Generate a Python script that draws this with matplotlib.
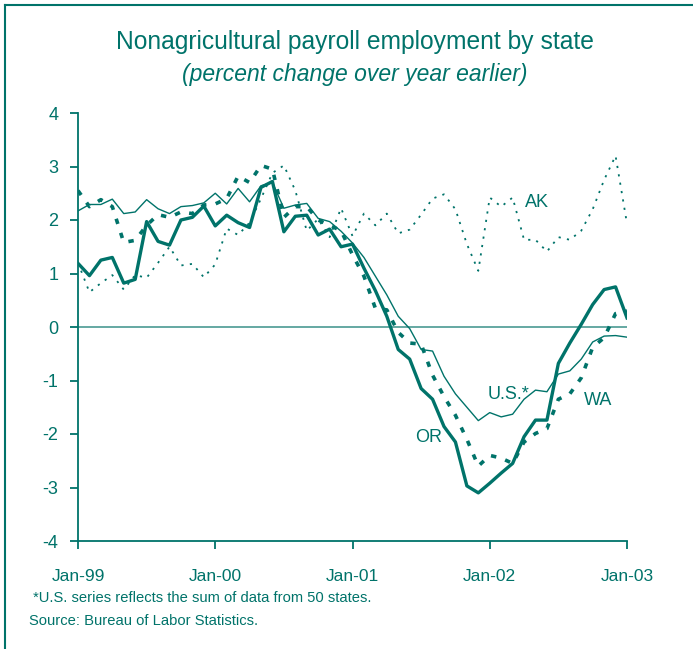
import numpy as np
import matplotlib
matplotlib.use('Agg')
import matplotlib.pyplot as plt
from matplotlib.lines import Line2D

plt.rcParams['font.family'] = ['Liberation Sans', 'DejaVu Sans']
plt.rcParams['axes.unicode_minus'] = False

# monthly, Jan-99 .. Jan-03 (49 points)
months = np.arange(49)

us = [2.17, 2.29, 2.29, 2.39, 2.12, 2.15, 2.38, 2.21, 2.12, 2.25, 2.27, 2.32, 2.50,
      2.30, 2.59, 2.34, 2.64, 2.70, 2.22, 2.28, 2.31, 2.03, 1.97, 1.79, 1.57,
      1.30, 0.95, 0.60, 0.20, -0.03, -0.42, -0.45, -0.92, -1.25, -1.50, -1.75,
      -1.60, -1.68, -1.63, -1.35, -1.18, -1.21, -0.88, -0.82, -0.60, -0.28,
      -0.17, -0.16, -0.19]

oregon = [1.19, 0.96, 1.25, 1.30, 0.82, 0.89, 1.97, 1.60, 1.53, 2.00, 2.05, 2.26, 1.89,
          2.09, 1.95, 1.86, 2.61, 2.72, 1.78, 2.07, 2.09, 1.72, 1.83, 1.50, 1.55,
          1.10, 0.68, 0.20, -0.42, -0.60, -1.15, -1.35, -1.86, -2.15, -2.97, -3.10,
          -2.92, -2.73, -2.55, -2.05, -1.74, -1.74, -0.68, -0.30, 0.05, 0.42,
          0.70, 0.75, 0.17]

washington = [2.55, 2.25, 2.38, 2.25, 1.58, 1.62, 1.90, 2.10, 2.05, 2.15, 2.12, 2.28, 2.30,
              2.40, 2.82, 2.70, 3.02, 2.95, 2.05, 2.25, 2.25, 2.00, 1.90, 1.80, 1.35,
              0.95, 0.35, 0.32, -0.10, -0.30, -0.32, -0.90, -1.30, -1.65, -2.10, -2.60,
              -2.40, -2.45, -2.55, -2.15, -1.99, -1.90, -1.35, -1.25, -0.95, -0.38,
              -0.20, 0.25, 0.30]

alaska = [1.20, 0.65, 0.82, 0.97, 0.70, 0.97, 0.92, 1.20, 1.50, 1.15, 1.18, 0.93, 1.17,
          1.84, 1.72, 1.95, 2.40, 2.88, 3.02, 2.55, 1.80, 2.02, 1.68, 2.22, 1.70,
          2.12, 1.90, 2.12, 1.75, 1.82, 2.10, 2.40, 2.48, 2.20, 1.55, 1.05,
          2.42, 2.25, 2.42, 1.63, 1.63, 1.41, 1.68, 1.63, 1.80, 2.20,
          2.75, 3.20, 1.93]

year_ticks = [0, 12, 24, 36, 48]
year_labels = ['Jan-99', 'Jan-00', 'Jan-01', 'Jan-02', 'Jan-03']

teal = '#00736a'

fig = plt.figure(figsize=(6.93, 6.49), dpi=100)
ax = fig.add_axes([78 / 693, 1 - 541 / 649, 549 / 693, 428 / 649])

ax.axhline(0, color='#4a9a92', lw=1.2, zorder=1)
ax.plot(months, alaska, color=teal, lw=1.3, ls=(0, (1.2, 3.5)), zorder=2)
ax.plot(months, us, color=teal, lw=1.0, zorder=3)
ax.plot(months, washington, color=teal, lw=2.6, ls=(0, (1.5, 2.6)), zorder=4)
ax.plot(months, oregon, color=teal, lw=2.4, zorder=5)

ax.set_xlim(0, 48)
ax.set_ylim(-4, 4)
ax.set_yticks(range(-4, 5))
ax.set_xticks(year_ticks)
ax.set_xticklabels(year_labels)

for s in ['top', 'right']:
    ax.spines[s].set_visible(False)
for s in ['left', 'bottom']:
    ax.spines[s].set_color(teal)
    ax.spines[s].set_linewidth(1.3)
ax.tick_params(axis='y', colors=teal, labelcolor=teal, length=6, width=1.3,
               direction='out', labelsize=13, pad=8)
ax.tick_params(axis='x', colors=teal, labelcolor=teal, length=6, width=1.3,
               direction='out', labelsize=12.5, pad=14)

# series labels
ax.text(39.1, 2.25, 'AK', color=teal, fontsize=13)
ax.text(35.8, -1.35, 'U.S.*', color=teal, fontsize=13)
ax.text(44.2, -1.45, 'WA', color=teal, fontsize=13)
ax.text(29.5, -2.15, 'OR', color=teal, fontsize=13)

fig.text(0.512, 1 - 42 / 649, 'Nonagricultural payroll employment by state',
         ha='center', va='center', color=teal, fontsize=17.7)
fig.text(0.512, 1 - 75 / 649, '(percent change over year earlier)',
         ha='center', va='center', color=teal, fontsize=16.5, style='italic')

fig.text(33 / 693, 1 - 598 / 649, '*U.S. series reflects the sum of data from 50 states.',
         ha='left', va='center', color=teal, fontsize=10.6)
fig.text(29 / 693, 1 - 621 / 649, 'Source: Bureau of Labor Statistics.',
         ha='left', va='center', color=teal, fontsize=10.6)

# frame lines at top and left of the panel
fig.add_artist(Line2D([5 / 693, 1], [1 - 5 / 649, 1 - 5 / 649], color=teal, lw=1.5,
                      transform=fig.transFigure))
fig.add_artist(Line2D([5 / 693, 5 / 693], [0, 1 - 5 / 649], color=teal, lw=1.5,
                      transform=fig.transFigure))

fig.savefig('out.png', dpi=100)
